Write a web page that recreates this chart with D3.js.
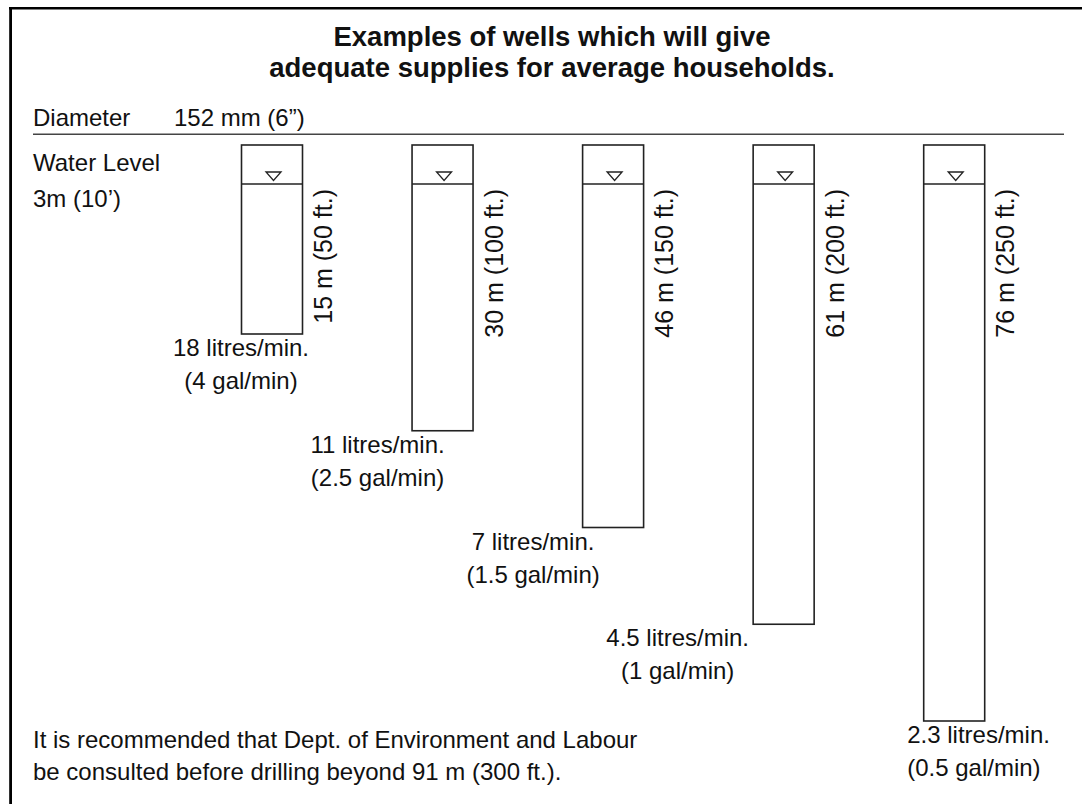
<!DOCTYPE html>
<html>
<head>
<meta charset="utf-8">
<script src="https://cdn.jsdelivr.net/npm/d3@7"></script>
<style>
  html, body { margin: 0; padding: 0; background: #fff; }
  svg text { font-family: "Liberation Sans", Arial, Helvetica, sans-serif; fill: #111; }
</style>
</head>
<body>
<svg id="chart" width="1082" height="804"></svg>
<script>
// ---- data ----
const titleLines = ["Examples of wells which will give", "adequate supplies for average households."];
const wells = ["A", "B", "C", "D", "E"];
const depthM = [15, 30, 46, 61, 76];
const depthFt = [50, 100, 150, 200, 250];
const yieldLitres = ["18", "11", "7", "4.5", "2.3"];
const yieldGallons = ["4", "2.5", "1.5", "1", "0.5"];
const waterLevelFt = 10;
const diameterText = ["Diameter", "152 mm (6\u201d)"];
const waterLevelText = ["Water Level", "3m (10\u2019)"];
const noteLines = ["It is recommended that Dept. of Environment and Labour",
                   "be consulted before drilling beyond 91 m (300 ft.)."];

// ---- layout ----
const W = 1082, H = 804;
const svg = d3.select("#chart");
const wellW = 61;
const fs = 24;
// label placement per well (relative to well centre)
const labelDx = [-31, -65, -80, -106, -47];
const labelAnchor = ["middle", "middle", "middle", "middle", "start"];

const x = d3.scalePoint().domain(wells).range([241.5, 923.7]);
// depth (ft) -> y ; top box is schematic above water level
const y = d3.scaleLinear().domain([0, waterLevelFt, 50, 250]).range([145, 184, 334, 721]);

// frame (left and top edges)
svg.append("line").attr("x1", 9).attr("x2", W).attr("y1", 8.3).attr("y2", 8.3)
  .attr("stroke", "#000").attr("stroke-width", 2.6);
svg.append("line").attr("x1", 10.6).attr("x2", 10.6).attr("y1", 7).attr("y2", H)
  .attr("stroke", "#000").attr("stroke-width", 2.8);

// title
svg.append("g").selectAll("text").data(titleLines).join("text")
  .attr("x", 552).attr("y", (d, i) => 46 + i * 31)
  .attr("text-anchor", "middle")
  .style("font-size", "27.5px").style("font-weight", "bold")
  .text(d => d);

// diameter row
svg.append("text").attr("x", 33).attr("y", 126).style("font-size", fs + "px").text(diameterText[0]);
svg.append("text").attr("x", 174).attr("y", 126).style("font-size", fs + "px").text(diameterText[1]);
svg.append("line").attr("x1", 33).attr("x2", 1064).attr("y1", 134.3).attr("y2", 134.3)
  .attr("stroke", "#444").attr("stroke-width", 1.5);

// water level text
svg.append("g").selectAll("text").data(waterLevelText).join("text")
  .attr("x", 33).attr("y", (d, i) => 171 + i * 36)
  .style("font-size", fs + "px").text(d => d);

// wells
const g = svg.append("g").selectAll("g").data(wells).join("g");
g.append("rect")
  .attr("x", d => x(d)).attr("y", y(0))
  .attr("width", wellW)
  .attr("height", (d, i) => y(depthFt[i]) - y(0))
  .attr("fill", "none").attr("stroke", "#222").attr("stroke-width", 1.6);
g.append("line")
  .attr("x1", d => x(d)).attr("x2", d => x(d) + wellW)
  .attr("y1", y(waterLevelFt)).attr("y2", y(waterLevelFt))
  .attr("stroke", "#222").attr("stroke-width", 1.6);
g.append("path")
  .attr("d", d => {
    const cx = x(d) + wellW / 2 + 1.5, ty = y(waterLevelFt) - 12;
    return `M${cx - 7.5},${ty} L${cx + 7.5},${ty} L${cx},${ty + 8.5} Z`;
  })
  .attr("fill", "none").attr("stroke", "#222").attr("stroke-width", 1.3);

// depth labels (rotated)
g.append("text")
  .attr("transform", d => `translate(${x(d) + wellW + 29.5},189) rotate(-90)`)
  .attr("text-anchor", "end")
  .style("font-size", "25px")
  .text((d, i) => `${depthM[i]} m (${depthFt[i]} ft.)`);

// yield labels
g.append("text")
  .attr("x", (d, i) => x(d) + wellW / 2 + labelDx[i])
  .attr("y", (d, i) => y(depthFt[i]) + 22)
  .attr("text-anchor", (d, i) => labelAnchor[i])
  .style("font-size", fs + "px")
  .text((d, i) => `${yieldLitres[i]} litres/min.`);
g.append("text")
  .attr("x", (d, i) => x(d) + wellW / 2 + labelDx[i])
  .attr("y", (d, i) => y(depthFt[i]) + 55)
  .attr("text-anchor", (d, i) => labelAnchor[i])
  .style("font-size", fs + "px")
  .text((d, i) => `(${yieldGallons[i]} gal/min)`);

// note
svg.append("g").selectAll("text").data(noteLines).join("text")
  .attr("x", 33).attr("y", (d, i) => 748 + i * 32)
  .style("font-size", fs + "px").text(d => d);
</script>
</body>
</html>
